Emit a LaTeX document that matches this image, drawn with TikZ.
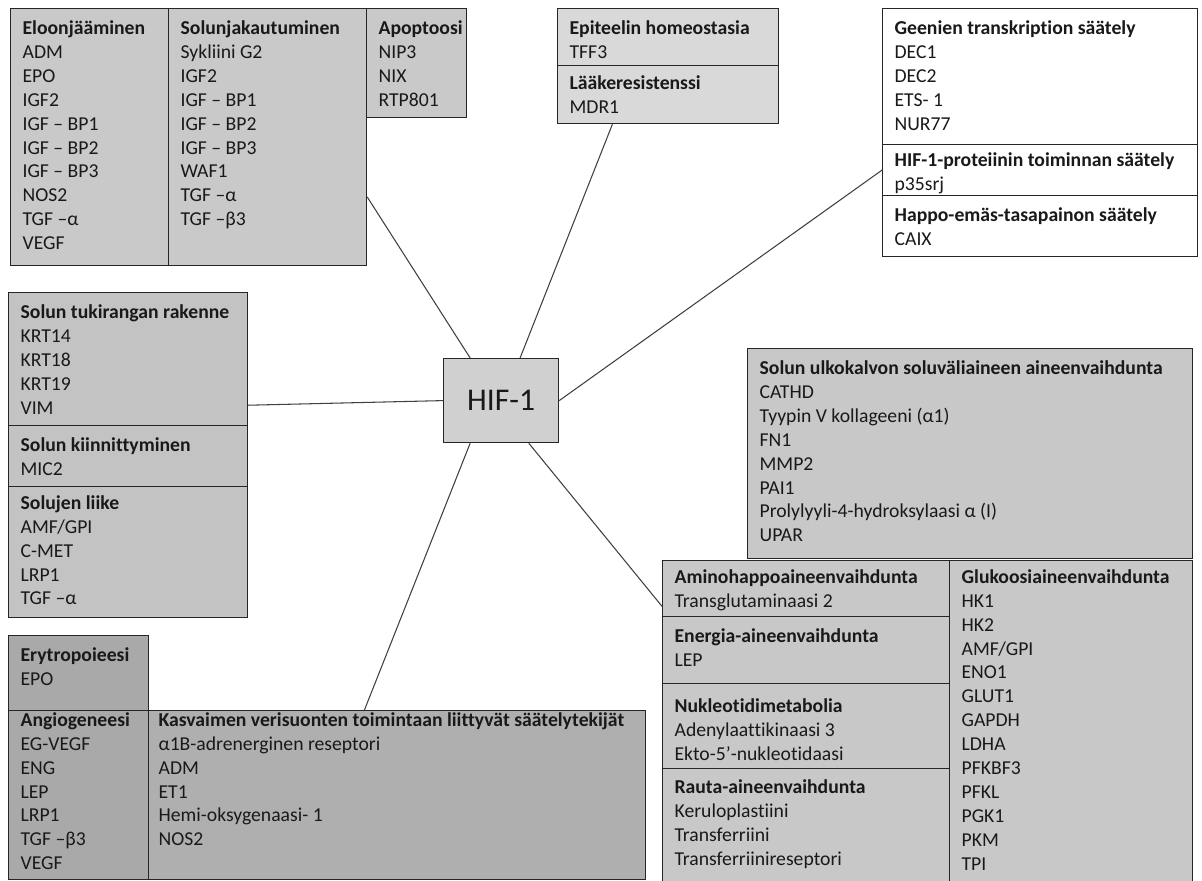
\documentclass[tikz,border=0pt]{standalone}
\usepackage{fontspec}
\setmainfont{Carlito}[Ligatures=NoCommon]

\definecolor{topgray}{HTML}{C9C9C9}
\definecolor{lightgray}{HTML}{D9D9D9}
\definecolor{midgray}{HTML}{C3C3C3}
\definecolor{darkgray}{HTML}{A9A9A9}
\definecolor{vesselgray}{HTML}{AFAFAF}
\definecolor{metagray}{HTML}{C8C8C8}
\definecolor{hubgray}{HTML}{D0D0D0}

\newdimen\px \px=0.02cm
\newcommand{\genefont}{\fontsize{11.2}{13.6}\selectfont}
% width, height and lines of one group box
\newcommand{\genes}[4][9.2]{\parbox[c][#3\px][t]{\dimexpr#2\px-24\px\relax}{\vspace*{#1\px}\strut #4}}

\tikzset{grp/.style={draw=black!85,line width=0.7pt,anchor=north west,inner xsep=0.24cm,inner ysep=0pt,font=\genefont,text=black!90}}
\tikzset{hub/.style={draw=black!85,line width=0.7pt,fill=hubgray,minimum width=2.3cm,minimum height=1.68cm,anchor=north west,font=\fontsize{18}{20}\selectfont,text=black!90}}
\tikzset{link/.style={draw=black!75,line width=0.6pt}}

\begin{document}
\begin{tikzpicture}[x=0.02cm,y=-0.02cm]
        \fill[white] (0,0) rectangle (1202,881);
        \useasboundingbox (0,0) rectangle (1202,881);
        % the hub
        \node[hub] (hif) at (443,358) {HIF-1};

        % top left groups
        \node[grp,fill=topgray] (elo) at (10,8) {\genes{158}{257}{\textbf{Eloonjääminen}\\ADM\\EPO\\IGF2\\IGF – BP1\\IGF – BP2\\IGF – BP3\\NOS2\\TGF –α\\VEGF}};
        \node[grp,fill=topgray] (jako) at (168,8) {\genes{198}{257}{\textbf{Solunjakautuminen}\\Sykliini G2\\IGF2\\IGF – BP1\\IGF – BP2\\IGF – BP3\\WAF1\\TGF –α\\TGF –β3}};
        \node[grp,fill=topgray] (apop) at (366,8) {\genes{100}{109}{\textbf{Apoptoosi}\\NIP3\\NIX\\RTP801}};

        % top middle
        \node[grp,fill=lightgray] (epi) at (557,8) {\genes{221}{57}{\textbf{Epiteelin homeostasia}\\TFF3}};
        \node[grp,fill=lightgray] (laake) at (557,65) {\genes[7]{221}{58}{\textbf{Lääkeresistenssi}\\MDR1}};

        % top right
        \node[grp,fill=white] (geen) at (882,8) {\genes{315}{136}{\textbf{Geenien transkription säätely}\\DEC1\\DEC2\\ETS- 1\\NUR77}};
        \node[grp,fill=white] (hifp) at (882,144) {\genes[5]{315}{51}{\textbf{HIF-1-proteiinin toiminnan säätely}\\p35srj}};
        \node[grp,fill=white] (happo) at (882,195) {\genes{315}{61}{\textbf{Happo-emäs-tasapainon säätely}\\CAIX}};

        % left
        \node[grp,fill=midgray] (tuki) at (8,292) {\genes{239}{133}{\textbf{Solun tukirangan rakenne}\\KRT14\\KRT18\\KRT19\\VIM}};
        \node[grp,fill=midgray] (kiin) at (8,425) {\genes{239}{61}{\textbf{Solun kiinnittyminen}\\MIC2}};
        \node[grp,fill=midgray] (liike) at (8,486) {\genes[6]{239}{131}{\textbf{Solujen liike}\\AMF/GPI\\C-MET\\LRP1\\TGF –α}};

        % bottom left
        \node[grp,fill=darkgray] (eryt) at (8,635) {\genes{140}{75}{\textbf{Erytropoieesi}\\EPO}};
        \node[grp,fill=darkgray] (angio) at (8,710) {\genes[-1]{140}{169}{\textbf{Angiogeneesi}\\EG-VEGF\\ENG\\LEP\\LRP1\\TGF –β3\\VEGF}};
        \node[grp,fill=vesselgray,inner xsep=0.2cm] (kasv) at (148,710) {\genes[-1]{501}{169}{\textbf{Kasvaimen verisuonten toimintaan liittyvät säätelytekijät}\\α1B-adrenerginen reseptori\\ADM\\ET1\\Hemi-oksygenaasi- 1\\NOS2}};

        % right
        \node[grp,fill=metagray] (ulko) at (747,348) {\genes{445}{210}{\textbf{Solun ulkokalvon soluväliaineen aineenvaihdunta}\\CATHD\\Tyypin V kollageeni (α1)\\FN1\\MMP2\\PAI1\\Prolylyyli-4-hydroksylaasi α (I)\\UPAR}};
        \node[grp,fill=metagray] (amino) at (662,560) {\genes[6]{287}{56}{\textbf{Aminohappoaineenvaihdunta}\\Transglutaminaasi 2}};
        \node[grp,fill=metagray] (energ) at (662,616) {\genes{287}{67}{\textbf{Energia-aineenvaihdunta}\\LEP}};
        \node[grp,fill=metagray] (nukl) at (662,683) {\genes[12]{287}{85}{\textbf{Nukleotidimetabolia}\\Adenylaattikinaasi 3\\Ekto-5’-nukleotidaasi}};
        \node[grp,fill=metagray] (rauta) at (662,768) {\genes[8]{287}{114}{\textbf{Rauta-aineenvaihdunta}\\Keruloplastiini\\Transferriini\\Transferriinireseptori}};
        \node[grp,fill=metagray] (gluk) at (949,560) {\genes[6]{243}{322}{\textbf{Glukoosiaineenvaihdunta}\\HK1\\HK2\\AMF/GPI\\ENO1\\GLUT1\\GAPDH\\LDHA\\PFKBF3\\PFKL\\PGK1\\PKM\\TPI}};

        % spokes from the hub
        \draw[link] (hif.126) -- (jako.-31.4);
        \draw[link] (hif.66) -- (laake.-152);
        \draw[link] (hif.east) -- (hifp.west);
        \draw[link] (hif.west) -- (tuki.-21.3);
        \draw[link] (hif.234) -- (kasv.111.6);
        \draw[link] (hif.303) -- (amino.-173.2);
\end{tikzpicture}
\end{document}
